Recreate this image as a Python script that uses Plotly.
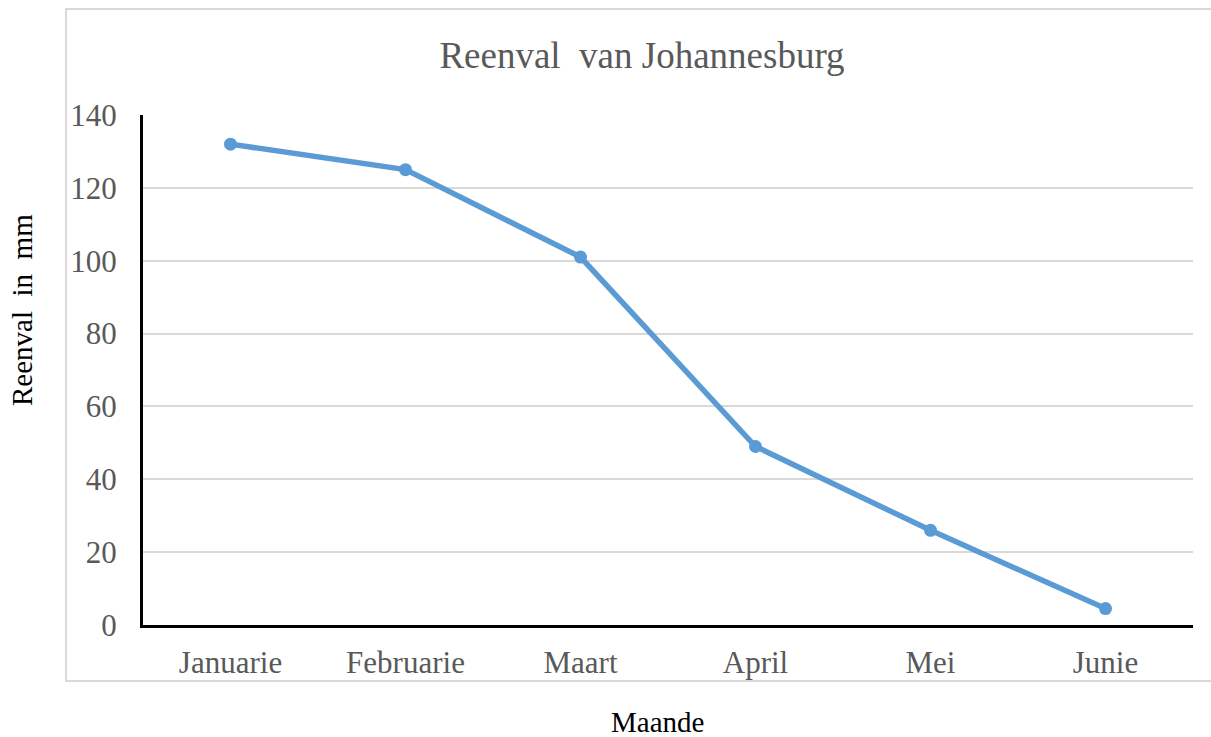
import plotly.graph_objects as go

months = ["Januarie", "Februarie", "Maart", "April", "Mei", "Junie"]
rainfall_mm = [132, 125, 101, 49, 26, 4.5]
y_ticks = [0, 20, 40, 60, 80, 100, 120, 140]

W, H = 1211, 737
L, R, T, B = 143, 18, 115, 112
pw, ph = W - L - R, H - T - B

def px_x(x):
    return (x - L) / pw

def px_y(y):
    return (H - B - y) / ph

fig = go.Figure()
fig.add_trace(go.Scatter(
    x=months, y=rainfall_mm, mode="lines+markers",
    line=dict(color="#5B9BD5", width=5.5),
    marker=dict(color="#5B9BD5", size=13),
    hoverinfo="x+y", showlegend=False,
))

font_family = "Liberation Serif, Times New Roman, serif"
gray = "#595959"

fig.update_layout(
    width=W, height=H,
    margin=dict(l=L, r=R, t=T, b=B),
    paper_bgcolor="white", plot_bgcolor="white",
    font=dict(family=font_family, color=gray),
    title=dict(text="Reenval  van Johannesburg", x=px_x(642), xref="paper",
               xanchor="center", y=1 - 55 / H, yanchor="middle", yref="container",
               font=dict(size=37, color=gray, family=font_family)),
    xaxis=dict(
        type="category", range=[-0.5, 5.5],
        showline=True, linecolor="black", linewidth=3,
        showgrid=False, ticks="", zeroline=False,
        tickfont=dict(size=31, color=gray, family=font_family),
        ticklabelstandoff=8,
    ),
    yaxis=dict(
        range=[0, 140], tickvals=y_ticks,
        showline=True, linecolor="black", linewidth=3,
        showgrid=True, gridcolor="#D9D9D9", gridwidth=1.5,
        zeroline=False, ticks="",
        tickfont=dict(size=31, color=gray, family=font_family),
        ticklabelstandoff=17,
    ),
    shapes=[dict(
        type="rect", xref="paper", yref="paper",
        x0=px_x(66), x1=px_x(1280), y0=px_y(681), y1=px_y(9),
        line=dict(color="#D9D9D9", width=2), fillcolor="rgba(0,0,0,0)",
        layer="below",
    )],
    annotations=[
        dict(text="Reenval  in  mm", xref="paper", yref="paper",
             x=px_x(22), y=px_y(310), textangle=-90, showarrow=False,
             xanchor="center", yanchor="middle",
             font=dict(size=29, color="black", family=font_family)),
        dict(text="Maande", xref="paper", yref="paper",
             x=px_x(657), y=px_y(722), showarrow=False,
             xanchor="center", yanchor="middle",
             font=dict(size=29, color="black", family=font_family)),
    ],
)

fig.write_html("out.html", config={"displayModeBar": False},
               post_script="document.body.style.margin='0';")
